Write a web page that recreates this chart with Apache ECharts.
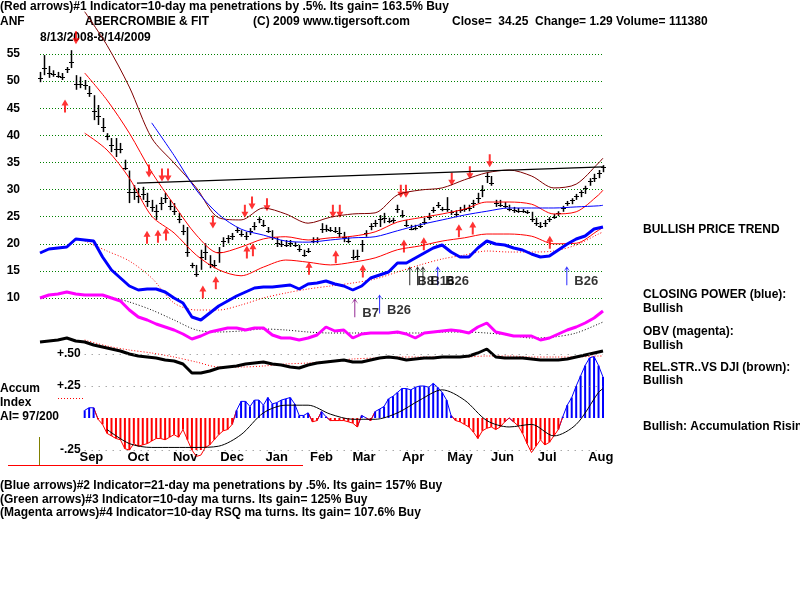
<!DOCTYPE html>
<html>
<head>
<meta charset="utf-8">
<script src="https://cdn.jsdelivr.net/npm/echarts@6/dist/echarts.min.js"></script>
<style>
  html, body { margin: 0; padding: 0; background: #fff; }
  #main { width: 800px; height: 600px; }
</style>
</head>
<body>
<div id="main"></div>
<script>
// ANF daily bars 8/13/2008 - 8/14/2009, one bar every 2 trading days
var priceHigh = [51.7,54.8,52.8,52.0,51.7,51.5,52.6,55.7,51.1,50.8,50.2,49.1,47.4,45.6,43.2,40.4,39.5,39.5,38.6,35.5,
  33.5,30.8,30.3,30.5,29.4,28.1,27.2,28.6,29.4,28.1,27.5,25.7,23.5,23.1,16.5,16.1,18.9,20.1,17.9,17.0,
  19.4,21.2,21.6,22.0,23.1,22.5,22.2,22.9,24.0,24.9,24.4,23.1,22.5,21.2,20.7,20.7,20.7,20.3,19.8,18.9,
  19.2,21.2,21.2,23.8,23.5,23.1,23.1,23.1,22.2,21.2,18.9,18.9,20.7,22.5,23.8,24.4,25.3,25.7,24.8,24.8,
  27.2,26.2,24.4,23.5,23.5,23.8,24.8,25.7,26.8,27.7,26.8,28.6,26.2,26.2,26.8,27.2,27.2,28.1,29.4,30.8,
  33.2,32.5,28.1,28.1,27.7,27.2,26.8,26.6,26.4,26.2,25.9,24.8,24.0,24.4,24.9,25.5,26.0,27.0,27.9,28.4,
  29.2,29.9,30.7,32.1,32.9,33.6,34.5];
var priceLow = [49.8,51.1,50.6,50.8,50.6,50.2,51.5,52.4,48.4,48.7,48.4,47.1,42.8,41.9,40.6,39.1,36.9,36.0,36.7,33.6,
  27.5,28.1,27.5,28.1,26.8,25.9,24.4,26.2,27.5,26.2,25.3,23.8,21.6,17.6,15.5,13.9,15.2,17.0,15.5,15.5,
  16.5,19.4,20.1,20.7,22.0,21.3,20.7,21.6,22.5,23.8,23.1,22.0,20.7,19.4,19.4,19.4,19.4,19.4,18.5,17.6,
  18.3,20.1,20.1,22.0,22.2,22.2,22.0,21.2,20.3,20.1,17.0,17.0,18.5,21.3,22.5,23.1,23.1,23.8,23.8,23.8,
  25.7,24.8,23.1,22.5,22.5,22.9,23.5,24.4,25.7,26.6,26.0,25.9,25.3,24.9,25.7,25.9,26.0,26.6,27.5,28.6,
  31.2,30.7,26.8,26.8,26.6,26.0,25.7,25.7,25.7,25.5,24.0,23.3,22.9,23.1,24.0,24.6,25.1,25.9,27.0,27.3,
  28.1,28.6,29.2,30.7,31.4,32.1,33.2];
var priceClose = [50.5,52.5,51.5,51.3,51.0,50.8,52.2,53.5,49.5,49.5,49.2,47.8,44.5,43.5,41.5,39.8,38.3,37.5,37.5,34.0,
  29.5,29.5,28.8,29.2,27.8,26.8,26.0,27.5,28.5,27.0,26.0,24.5,22.3,18.5,16.0,14.5,17.5,18.5,16.3,16.0,
  18.5,20.5,21.0,21.5,22.5,21.8,21.5,22.3,23.3,24.5,23.5,22.4,21.3,20.2,20.0,19.8,20.2,19.8,19.0,18.0,
  18.7,20.6,20.8,22.8,22.8,22.6,22.4,22.0,21.2,20.5,17.5,17.8,20.0,22.0,23.2,23.8,24.5,24.8,24.2,24.3,
  26.5,25.3,23.5,22.8,23.0,23.3,24.0,25.0,26.3,27.2,26.4,26.5,25.8,25.5,26.2,26.5,26.6,27.5,28.5,30.0,
  32.5,31.2,27.5,27.2,27.0,26.5,26.2,26.0,26.0,25.8,24.5,23.8,23.3,23.8,24.5,25.0,25.6,26.6,27.5,28.0,
  28.8,29.5,30.2,31.5,32.2,33.0,34.25];

// Accumulation Index, same days as the bars
var accumIndex = [null,null,null,null,null,null,null,null,null,null,
  0.06,0.08,0.08,-0.01,-0.05,-0.12,-0.14,-0.16,-0.17,-0.24,
  -0.25,-0.20,-0.22,-0.21,-0.20,-0.18,-0.16,-0.16,-0.17,-0.15,
  -0.13,-0.15,-0.09,-0.17,-0.25,-0.30,-0.29,-0.23,-0.21,-0.17,
  -0.13,-0.10,-0.09,-0.05,0.06,0.13,0.13,0.09,0.14,0.14,
  0.10,0.16,0.11,0.12,0.14,0.15,0.16,0.11,0.02,0.02,
  0.04,-0.03,-0.02,0.05,0.01,-0.02,-0.02,-0.02,-0.02,-0.03,
  -0.04,-0.07,0.02,0.00,-0.02,0.05,0.07,0.09,0.15,0.17,
  0.20,0.23,0.23,0.22,0.24,0.25,0.25,0.24,0.27,0.24,
  0.20,0.14,0.02,-0.02,-0.03,-0.05,-0.07,-0.11,-0.16,-0.10,
  -0.08,-0.07,-0.09,-0.07,-0.03,0.00,-0.03,-0.06,-0.12,-0.20,
  -0.27,-0.22,-0.17,-0.21,-0.19,-0.14,-0.09,0.01,0.10,0.16,
  0.25,0.33,0.41,0.47,0.48,0.41,0.32];

// smooth lines, one point every 10 trading days
var lineDays   = [0,10,20,30,40,50,60,70,80,90,100,110,120,130,140,150,160,170,180,190,200,210,220,230,240,250,252];
var maroonBand = [null,null,62.8,56.6,48.9,39.5,34.9,30.3,24.8,24.4,26.6,25.5,23.8,24.9,25.5,25.7,29.0,29.9,30.3,31.8,33.1,33.6,32.5,30.3,31.0,34.9,35.8];
var redUpper   = [null,null,51.5,46.5,40.4,33.2,27.2,21.6,18.3,19.4,20.9,21.3,20.7,21.1,21.4,22.2,24.0,24.8,25.5,26.4,27.7,27.7,27.3,25.5,25.9,29.0,29.9];
var redLower   = [null,null,40.4,37.3,32.1,25.1,22.0,17.9,15.2,14.1,15.7,17.0,16.6,16.1,16.6,17.4,18.9,19.6,20.5,21.1,21.8,21.8,21.4,20.0,20.1,22.5,23.0];
var blueMA     = [null,null,null,null,null,42.3,36.3,29.9,25.4,22.7,21.6,20.5,20.3,20.7,21.1,21.3,22.4,23.5,24.4,25.3,26.0,26.6,26.6,26.6,26.8,27.0,27.1];
var cpMA       = [null,null,79.5,74.5,69.5,61,48.5,45,45,47.5,51,53.5,55.5,57,58.5,60.5,64,67.5,70.5,72.5,74.5,74,74,74.5,77.5,83,84];
var obvMA      = [null,null,null,52,49,45,40,35,34,34.5,35.5,35,34,33.5,33.5,33.5,33.5,33.5,34,34,33.5,32.5,31,31.5,33.5,38,39];
var rsMA       = [null,null,30,27,25,23.5,21.5,19,16.5,16.5,17,18,18.5,19.5,20.5,21,21.5,21.5,21.5,21.5,22,22,21.5,21.5,21.5,22,22];
var aiMA       = [null,null,null,-0.09,-0.20,-0.23,-0.23,-0.23,-0.22,-0.13,0.04,0.10,0.10,0.03,-0.01,-0.01,0.04,0.14,0.22,0.14,-0.02,-0.07,-0.05,-0.14,-0.05,0.20,0.23];

// indicators, one point every 4 trading days
var closingPower = [73.5,75.5,76,76.5,80.5,80,79.5,71.5,65,61,57,55,55.5,55.5,54,51,48.5,41.5,40,43.5,
  47,49.5,52,54,56,56.5,56.5,57,57.5,55.5,58,58.5,59.5,58,57,55,57,61,62.5,64,
  68.5,68.5,71,73.5,76,77.5,74,71.5,71.5,76,79.5,78,77.5,76,75,73,71.5,72,75,78,80.5,82,85.5,86.5];
var obv = [51,52.5,53,54,53,52.5,52.5,52.5,51,49.5,45,41.5,40,38,36.5,35,33,30.5,32,34,
  35,36,36,35,36,36,32.5,31,31,30,31,32.5,36.5,34.5,35,31,33,33.5,33.5,33.5,
  34,33,31,33.5,34,34.5,35,34.5,33.5,36.5,38.5,34,33,32,32,32,30,31,33,35,36.5,38.5,41,44.5];
var relStrength = [29,29.5,30,31,29.5,29,27.5,26.5,25.5,24.5,23,22,21.5,21,20,19.5,18,13.5,13.5,14.5,
  16,16.5,17,18,18.5,19,18,17.5,16.5,16,17.5,18.5,19,19.5,20,19,19,20,21,21.5,
  21,20,20.5,21,21,21.5,21.5,21.5,22,23.5,25.5,21.5,21,21,21,20.5,20,20,20,20.5,21.5,22.5,23.5,24.5];

// resistance line
var trendDays = [43.4, 252];
var trendVals = [31.2, 34.2];

// red arrows
var upArrowDays   = [11.2,47.9,52.8,56.4,72.9,78.7,92.6,95.3,120.4,132.4,144.5,162.9,171.8,187.5,193.7,228.2];
var upArrowVals   = [45.4,21.2,21.4,21.8,11.1,12.8,18.5,18.9,15.5,17.6,15.0,19.6,20.0,22.4,22.9,20.3];
var downArrowDays = [16.1,48.8,54.6,57.3,77.4,91.7,94.9,101.6,131.1,134.2,161.5,163.8,184.3,192.4,201.3];
var downArrowVals = [58.0,33.4,32.7,32.7,24.0,26.0,27.5,27.2,26.0,26.0,29.7,29.7,31.9,33.1,35.3];

// buy signals
var sigMagDays = [140.9], sigMagVals = [8.2], sigMagText = ['B7'];
var sigBlueDays = [152, 178, 235.8], sigBlueVals = [8.9, 14.1, 14.1], sigBlueText = ['B26', 'B26', 'B26'];
var sigBlackDays = [165.5, 169, 171.4], sigBlackVals = [14.1, 14.1, 14.1], sigBlackText = ['B8', '', 'B16'];

var monthNames = ['Sep','Oct','Nov','Dec','Jan','Feb','Mar','Apr','May','Jun','Jul','Aug'];
var monthPos   = [23, 44, 65, 86, 106, 126, 145, 167, 188, 207, 227, 251];
var priceTicks = [10, 55, 5];
var aiLevels = [0.5, 0.25, -0.25];
var aiLevelText = ['+.50', '+.25', '-.25'];

var FONT = '"Liberation Sans", Arial, sans-serif';

function pairs(xs, ys) {
  var out = [];
  for (var i = 0; i < xs.length; i++) {
    if (ys[i] !== null && ys[i] !== undefined) out.push([xs[i], ys[i]]);
  }
  return out;
}
function stepDays(n, step) {
  var out = [];
  for (var i = 0; i < n; i++) out.push(Math.min(i * step, 252));
  return out;
}
var barDays = stepDays(priceClose.length, 2);
var indDays = stepDays(closingPower.length, 4);

var bars = [];
for (var i = 0; i < barDays.length; i++) bars.push([barDays[i], priceHigh[i], priceLow[i], priceClose[i]]);

function txt(x, y, s) {
  return { type: 'text', x: x, y: y, silent: true,
    style: { text: s, font: 'bold 12px ' + FONT, fill: '#000', verticalAlign: 'middle' } };
}

var upPath = 'path://M3.5,0 L7,6 L4.5,6 L4.5,13 L2.5,13 L2.5,6 L0,6 Z';
var sigPath = 'path://M4,0 L8,6 L4.6,2.5 L4.6,20 L3.4,20 L3.4,2.5 L0,6 Z';

var myChart = echarts.init(document.getElementById('main'), null, { renderer: 'canvas' });

function hiddenX(idx) {
  return { type: 'value', gridIndex: idx, min: 0, max: 252, show: false };
}
function hiddenY(idx, mn, mx) {
  return { type: 'value', gridIndex: idx, min: mn, max: mx, show: false };
}

// accumulation index outline, blue above zero and red below
function aiOutline(api, pts, color, wantPositive) {
  var kids = [];
  for (var i = 1; i < pts.length; i++) {
    var a = pts[i - 1], b = pts[i];
    if ((a[1] >= 0) !== wantPositive && (b[1] >= 0) !== wantPositive) continue;
    var p1 = api.coord(a), p2 = api.coord(b);
    kids.push({ type: 'line', shape: { x1: p1[0], y1: p1[1], x2: p2[0], y2: p2[1] }, style: { stroke: color, lineWidth: 1 } });
  }
  return kids;
}

var aiPoints = pairs(barDays, accumIndex);

var option = {
  animation: false,
  backgroundColor: '#fff',
  grid: [
    { left: 40, width: 563, top: 54, height: 244 },
    { left: 40, width: 563, top: 200, height: 200 },
    { left: 40, width: 563, top: 354, height: 96 }
  ],
  xAxis: [
    hiddenX(0),
    hiddenX(1),
    { type: 'value', gridIndex: 2, min: 0, max: 252,
      axisLine: { show: false }, axisTick: { show: false }, splitLine: { show: false },
      axisLabel: {
        customValues: monthPos,
        formatter: function (v) { var k = monthPos.indexOf(v); return k < 0 ? '' : monthNames[k]; },
        fontFamily: FONT, fontWeight: 'bold', fontSize: 13, color: '#000', margin: 1
      } }
  ],
  yAxis: [
    { type: 'value', gridIndex: 0, min: priceTicks[0], max: priceTicks[1], interval: priceTicks[2],
      axisLine: { show: false }, axisTick: { show: false },
      axisLabel: { fontFamily: FONT, fontWeight: 'bold', fontSize: 12, color: '#000', margin: 20 },
      splitLine: { lineStyle: { color: '#008000', type: [1, 2], width: 1 } } },
    hiddenY(1, 0, 100),
    hiddenY(1, 0, 100),
    hiddenY(1, 0, 100),
    hiddenY(2, -0.25, 0.5)
  ],
  graphic: [
    txt(0, 7, '(Red arrows)#1 Indicator=10-day ma penetrations by .5%. Its gain= 163.5% Buy'),
    txt(0, 22, 'ANF'),
    txt(85, 22, 'ABERCROMBIE & FIT'),
    txt(253, 22, '(C) 2009 www.tigersoft.com'),
    txt(452, 22, 'Close=  34.25  Change= 1.29 Volume= 111380'),
    txt(40, 38, '8/13/2008-8/14/2009'),
    txt(643, 230, 'BULLISH PRICE TREND'),
    txt(643, 295, 'CLOSING POWER (blue):'),
    txt(643, 309, 'Bullish'),
    txt(643, 332, 'OBV (magenta):'),
    txt(643, 346, 'Bullish'),
    txt(643, 368, 'REL.STR..VS DJI (brown):'),
    txt(643, 381, 'Bullish'),
    txt(643, 427, 'Bullish: Accumulation Rising'),
    txt(0, 389, 'Accum'),
    txt(0, 403, 'Index'),
    txt(0, 417, 'AI= 97/200'),
    txt(0, 486, '(Blue arrows)#2 Indicator=21-day ma penetrations by .5%. Its gain= 157% Buy'),
    txt(0, 500, '(Green arrows)#3 Indicator=10-day ma turns. Its gain= 125% Buy'),
    txt(0, 513, '(Magenta arrows)#4 Indicator=10-day RSQ ma turns. Its gain= 107.6% Buy'),
    { type: 'line', silent: true, shape: { x1: 8, y1: 465.5, x2: 303, y2: 465.5 }, style: { stroke: '#ff0000', lineWidth: 1 } },
    { type: 'line', silent: true, shape: { x1: 39.5, y1: 437, x2: 39.5, y2: 465 }, style: { stroke: '#808000', lineWidth: 1 } },
    { type: 'line', silent: true, shape: { x1: 58, y1: 398.5, x2: 84, y2: 398.5 }, style: { stroke: '#ff0000', lineWidth: 1, lineDash: [1, 2] } }
  ],
  series: [
    // price panel lines
    { type: 'line', xAxisIndex: 0, yAxisIndex: 0, data: pairs(lineDays, maroonBand), smooth: 0.3, clip: false,
      symbol: 'none', lineStyle: { color: '#800000', width: 1 } },
    { type: 'line', xAxisIndex: 0, yAxisIndex: 0, data: pairs(lineDays, redUpper), smooth: 0.3, clip: false,
      symbol: 'none', lineStyle: { color: '#ff0000', width: 1 } },
    { type: 'line', xAxisIndex: 0, yAxisIndex: 0, data: pairs(lineDays, redLower), smooth: 0.3, clip: false,
      symbol: 'none', lineStyle: { color: '#ff0000', width: 1 } },
    { type: 'line', xAxisIndex: 0, yAxisIndex: 0, data: pairs(lineDays, blueMA), smooth: 0.3, clip: false,
      symbol: 'none', lineStyle: { color: '#0000ff', width: 1 } },
    { type: 'line', xAxisIndex: 0, yAxisIndex: 0, data: pairs(trendDays, trendVals), clip: false,
      symbol: 'none', lineStyle: { color: '#000', width: 1.2 } },
    // closing power, OBV, relative strength
    { type: 'line', xAxisIndex: 1, yAxisIndex: 1, data: pairs(lineDays, cpMA), smooth: 0.3,
      symbol: 'none', lineStyle: { color: '#ff0000', width: 1, type: [1, 2] } },
    { type: 'line', xAxisIndex: 1, yAxisIndex: 1, data: pairs(indDays, closingPower),
      symbol: 'none', lineStyle: { color: '#0000ff', width: 3 } },
    { type: 'line', xAxisIndex: 1, yAxisIndex: 2, data: pairs(lineDays, obvMA), smooth: 0.3,
      symbol: 'none', lineStyle: { color: '#000', width: 1, type: [1, 2] } },
    { type: 'line', xAxisIndex: 1, yAxisIndex: 2, data: pairs(indDays, obv),
      symbol: 'none', lineStyle: { color: '#ff00ff', width: 3 } },
    { type: 'line', xAxisIndex: 1, yAxisIndex: 3, data: pairs(lineDays, rsMA), smooth: 0.3,
      symbol: 'none', lineStyle: { color: '#ff0000', width: 1, type: [1, 2] } },
    { type: 'line', xAxisIndex: 1, yAxisIndex: 3, data: pairs(indDays, relStrength),
      symbol: 'none', lineStyle: { color: '#000', width: 3 } },
    // price bars
    { type: 'custom', xAxisIndex: 0, yAxisIndex: 0, data: bars, encode: { x: 0, y: [1, 2, 3] },
      renderItem: function (params, api) {
        var t = api.value(0);
        var pH = api.coord([t, api.value(1)]);
        var pL = api.coord([t, api.value(2)]);
        var pC = api.coord([t, api.value(3)]);
        var x = Math.round(pH[0]) + 0.5;
        var yc = Math.round(pC[1]) + 0.5;
        return { type: 'group', children: [
          { type: 'line', shape: { x1: x, y1: pH[1], x2: x, y2: pL[1] }, style: { stroke: '#000', lineWidth: 1.5 } },
          { type: 'line', shape: { x1: x - 2.5, y1: yc, x2: x + 2.5, y2: yc }, style: { stroke: '#000', lineWidth: 1 } }
        ] };
      } },
    // red arrows
    { type: 'scatter', xAxisIndex: 0, yAxisIndex: 0, data: pairs(upArrowDays, upArrowVals), clip: false,
      symbol: upPath, symbolSize: [7, 13], itemStyle: { color: '#ff0000' } },
    { type: 'scatter', xAxisIndex: 0, yAxisIndex: 0, data: pairs(downArrowDays, downArrowVals), clip: false,
      symbol: upPath, symbolRotate: 180, symbolSize: [7, 13], itemStyle: { color: '#ff0000' } },
    // buy signals
    { type: 'scatter', xAxisIndex: 0, yAxisIndex: 0, data: pairs(sigMagDays, sigMagVals), clip: false,
      symbol: sigPath, symbolSize: [7, 19], itemStyle: { color: '#800080' },
      label: { show: true, position: 'right', offset: [-1, 6], formatter: function (p) { return sigMagText[p.dataIndex]; },
        fontFamily: FONT, fontWeight: 'bold', fontSize: 13, color: '#000' } },
    { type: 'scatter', xAxisIndex: 0, yAxisIndex: 0, data: pairs(sigBlueDays, sigBlueVals), clip: false,
      symbol: sigPath, symbolSize: [7, 19], itemStyle: { color: '#0000ff' },
      label: { show: true, position: 'right', offset: [-1, 6], formatter: function (p) { return sigBlueText[p.dataIndex]; },
        fontFamily: FONT, fontWeight: 'bold', fontSize: 13, color: '#000' } },
    { type: 'scatter', xAxisIndex: 0, yAxisIndex: 0, data: pairs(sigBlackDays, sigBlackVals), clip: false,
      symbol: sigPath, symbolSize: [7, 19], itemStyle: { color: '#000' },
      label: { show: true, position: 'right', offset: [-1, 6], formatter: function (p) { return sigBlackText[p.dataIndex]; },
        fontFamily: FONT, fontWeight: 'bold', fontSize: 13, color: '#000' } },
    // accumulation index: level lines, hatch bars, outline, moving average
    { type: 'line', xAxisIndex: 2, yAxisIndex: 4, data: pairs(lineDays, aiMA), smooth: 0.3, clip: false,
      symbol: 'none', lineStyle: { color: '#000', width: 1 },
      markLine: { silent: true, symbol: 'none', animation: false,
        lineStyle: { color: '#808080', type: [1, 6], width: 1 },
        label: { position: 'start', distance: 4, fontFamily: FONT, fontWeight: 'bold', fontSize: 12, color: '#000',
          formatter: function (p) { return p.name; } },
        data: aiLevels.map(function (v, i) { return [{ coord: [20, v], name: aiLevelText[i] }, { coord: [252, v] }]; }) } },
    { type: 'bar', xAxisIndex: 2, yAxisIndex: 4, data: aiPoints, barWidth: 2,
      itemStyle: { color: function (p) { return p.value[1] < 0 ? '#ff0000' : '#0000ff'; } } },
    { type: 'custom', xAxisIndex: 2, yAxisIndex: 4, data: [[0, 0]], clip: false,
      renderItem: function (params, api) {
        return { type: 'group', children:
          aiOutline(api, aiPoints, '#0000ff', true).concat(aiOutline(api, aiPoints, '#ff0000', false)) };
      } }
  ]
};

myChart.setOption(option);
</script>
</body>
</html>
